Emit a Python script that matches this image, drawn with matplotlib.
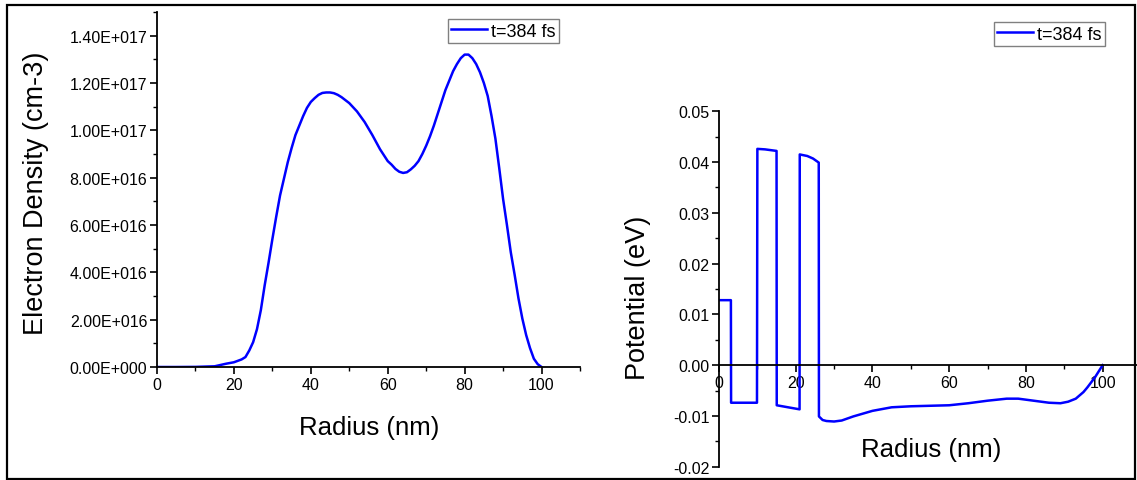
import matplotlib
matplotlib.use("Agg")
import matplotlib.pyplot as plt
from matplotlib.patches import Rectangle
from matplotlib.ticker import MultipleLocator

plt.rcParams['font.family'] = ['Liberation Sans', 'DejaVu Sans']

# ---- data: electron density ----
r_dens = [0, 5, 10, 15, 18, 20, 22, 23, 24, 25, 26, 27, 28, 29, 30, 31, 32, 33, 34, 35,
          36, 37, 38, 39, 40, 41, 42, 43, 44, 45, 46, 47, 48, 50, 52, 54, 56, 58, 60, 61,
          62, 63, 64, 65, 66, 67, 68, 69, 70, 71, 72, 73, 74, 75, 76, 77, 78, 79, 80, 81,
          82, 83, 84, 85, 86, 87, 88, 89, 90, 91, 92, 93, 94, 95, 96, 97, 98, 99, 100]
dens_e16 = [0, 0, 0.005, 0.03, 0.14, 0.2, 0.32, 0.42, 0.7, 1.05, 1.6, 2.4, 3.45, 4.4, 5.4,
            6.35, 7.25, 7.95, 8.65, 9.25, 9.8, 10.2, 10.6, 10.95, 11.2, 11.36, 11.5, 11.58,
            11.6, 11.6, 11.57, 11.5, 11.4, 11.15, 10.8, 10.35, 9.8, 9.2, 8.7, 8.55, 8.37,
            8.25, 8.2, 8.23, 8.35, 8.5, 8.7, 9.0, 9.35, 9.75, 10.2, 10.7, 11.2, 11.7, 12.1,
            12.5, 12.8, 13.05, 13.2, 13.2, 13.05, 12.8, 12.45, 12.0, 11.45, 10.6, 9.65, 8.4,
            7.1, 6.0, 4.85, 3.9, 2.9, 2.05, 1.35, 0.8, 0.35, 0.12, 0]
dens = [v * 1e16 for v in dens_e16]

# ---- data: potential ----
r_pot = [0, 3.1, 3.15, 9.9, 10.0, 12, 15.0, 15.05, 18, 21.0, 21.05, 23, 24.5, 26.0, 26.05,
         27, 28, 30, 32, 35, 40, 45, 50, 55, 60, 65, 70, 75, 78, 82, 86, 89, 91, 93, 95,
         96, 97, 98, 99, 100]
pot = [0.0128, 0.0128, -0.0074, -0.0074, 0.0426, 0.0425, 0.0422, -0.0079, -0.0083,
       -0.0087, 0.0415, 0.0412, 0.0407, 0.0399, -0.0101, -0.0108, -0.011, -0.0111,
       -0.0109, -0.0101, -0.009, -0.0083, -0.0081, -0.008, -0.0079, -0.0075, -0.007,
       -0.0066, -0.0066, -0.007, -0.0074, -0.0075, -0.0072, -0.0066, -0.0053, -0.0044,
       -0.0034, -0.0024, -0.0012, 0.0]

legend_label = "t=384 fs"
dens_ticks = [0, 2e16, 4e16, 6e16, 8e16, 1e17, 1.2e17, 1.4e17]
dens_ticklabels = ["0.00E+000", "2.00E+016", "4.00E+016", "6.00E+016", "8.00E+016",
                   "1.00E+017", "1.20E+017", "1.40E+017"]
pot_ticks = [-0.02, -0.01, 0.0, 0.01, 0.02, 0.03, 0.04, 0.05]
pot_ticklabels = ["-0.02", "-0.01", "0.00", "0.01", "0.02", "0.03", "0.04", "0.05"]
x_ticks = [0, 20, 40, 60, 80, 100]
x_ticklabels = ["0", "20", "40", "60", "80", "100"]

W, H = 1137, 481
fig = plt.figure(figsize=(W / 100, H / 100), dpi=100)
blue = '#0000ff'

def style(ax):
    for s in ['top', 'right']:
        ax.spines[s].set_visible(False)
    for s in ['left', 'bottom']:
        ax.spines[s].set_linewidth(1.3)
    ax.tick_params(which='major', direction='out', length=5, width=1.2, labelsize=11.5, pad=2)
    ax.tick_params(which='minor', direction='out', length=3, width=1.0)
    ax.xaxis.set_minor_locator(MultipleLocator(10))

# left panel
ax1 = fig.add_axes([157 / W, 1 - 368 / H, 423 / W, 355 / H])
ax1.plot(r_dens, dens, color=blue, lw=1.8, label=legend_label)
ax1.set_xlim(0, 110)
ax1.set_ylim(0, 1.5e17)
style(ax1)
ax1.set_xticks(x_ticks)
ax1.set_xticklabels(x_ticklabels)
ax1.set_yticks(dens_ticks)
ax1.set_yticklabels(dens_ticklabels)
ax1.yaxis.set_minor_locator(MultipleLocator(1e16))
ax1.set_xlabel("Radius (nm)", fontsize=18.5)
ax1.xaxis.set_label_coords((369 - 157) / 423, -(416 - 368) / 355)
ax1.set_ylabel("Electron Density (cm-3)", fontsize=19.5)
ax1.yaxis.set_label_coords(-(157 - 49) / 423, (368 - 193) / 355)
ax1.legend(loc='upper right', bbox_to_anchor=(559 / W, 1 - 20 / H), bbox_transform=fig.transFigure,
           fontsize=13, frameon=True, fancybox=False, edgecolor='#808080', framealpha=1,
           handlelength=2.0, handletextpad=0.2, borderpad=0.2, borderaxespad=0)

# right panel
ax2 = fig.add_axes([719 / W, 1 - 467.7 / H, 422 / W, 355.4 / H])
ax2.plot(r_pot, pot, color=blue, lw=1.8, label=legend_label)
ax2.set_xlim(0, 110)
ax2.set_ylim(-0.02, 0.05)
style(ax2)
ax2.spines['bottom'].set_position(('data', 0))
ax2.set_xticks(x_ticks)
ax2.set_xticklabels(x_ticklabels)
ax2.set_yticks(pot_ticks)
ax2.set_yticklabels(pot_ticklabels)
ax2.yaxis.set_minor_locator(MultipleLocator(0.005))
ax2.set_xlabel("Radius (nm)", fontsize=18.5)
ax2.xaxis.set_label_coords((931 - 719) / 422, (467.7 - 438) / 355.4)
ax2.set_ylabel("Potential (eV)", fontsize=19.5)
ax2.yaxis.set_label_coords(-(719 - 651) / 422, (467.7 - 298) / 355.4)
ax2.legend(loc='upper right', bbox_to_anchor=(1105 / W, 1 - 23 / H), bbox_transform=fig.transFigure,
           fontsize=13, frameon=True, fancybox=False, edgecolor='#808080', framealpha=1,
           handlelength=2.0, handletextpad=0.2, borderpad=0.2, borderaxespad=0)

# outer frame
fig.patches.append(Rectangle((7 / W, 1 / H), (1135 - 7) / W, (480 - 6) / H,
                             transform=fig.transFigure, fill=False, edgecolor='black',
                             linewidth=1.6))

fig.savefig("out.png", dpi=100)
